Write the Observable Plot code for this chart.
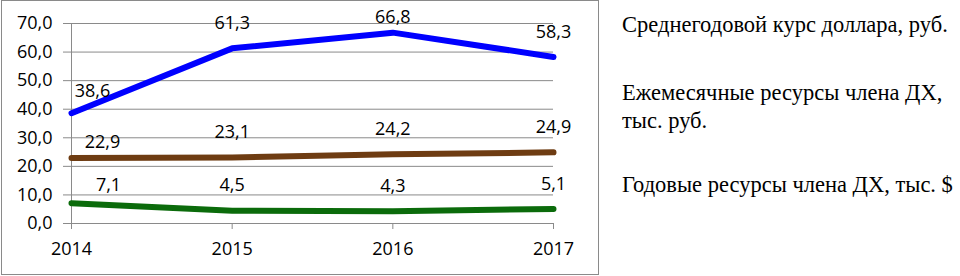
<!DOCTYPE html>
<html>
<head>
<meta charset="utf-8">
<script src="https://cdn.jsdelivr.net/npm/d3@7"></script>
<script src="https://cdn.jsdelivr.net/npm/@observablehq/plot@0.6"></script>
<style>
  html, body { margin: 0; padding: 0; background: #fff; }
  #wrap { position: relative; width: 960px; height: 276px; overflow: hidden; }
  #chart { position: absolute; left: 0; top: 0; }
  #frame { position: absolute; left: 1px; top: 0; width: 598px; height: 275px; box-sizing: border-box; border: 1px solid #8a8a8a; pointer-events: none; }
  .leg { position: absolute; left: 622px; font-family: "Times New Roman", "Liberation Serif", "DejaVu Serif", serif; font-size: 22.5px; line-height: 28px; color: #000; white-space: nowrap; }
</style>
</head>
<body>
<div id="wrap">
  <div id="chart"></div>
  <div id="frame"></div>
  <div id="legend"></div>
</div>
<script>
const years = [2014, 2015, 2016, 2017];
const usdRate = [38.6, 61.3, 66.8, 58.3];
const monthlyResources = [22.9, 23.1, 24.2, 24.9];
const annualResourcesUsd = [7.1, 4.5, 4.3, 5.1];
const seriesNames = [
  "Среднегодовой курс доллара, руб.",
  "Ежемесячные ресурсы члена ДХ,\nтыс. руб.",
  "Годовые ресурсы члена ДХ, тыс. $"
];
const yTicks = [0, 10, 20, 30, 40, 50, 60, 70];
const xTicks = [2014, 2015, 2016, 2017];

const colors = ["#0000ff", "#6e3c12", "#0b6b0b"];
const seriesValues = [usdRate, monthlyResources, annualResourcesUsd];

const rows = [];
seriesValues.forEach((vals, si) => {
  vals.forEach((v, i) => rows.push({series: seriesNames[si], si, year: years[i], value: v}));
});

const fmt = v => v.toFixed(1).replace(".", ",");

const firstDx = [21, 31, 37];
const firstDy = [-22, -16, -18];

const labelMarks = [];
rows.forEach(r => {
  let dx = 0, dy = -25;
  if (r.year === years[0]) { dx = firstDx[r.si]; dy = firstDy[r.si]; }
  if (r.si === 0 && r.year === 2016) dy = -15;
  labelMarks.push(Plot.text([r], {x: "year", y: "value", text: d => fmt(d.value), dx, dy, fill: "#000"}));
});

const chart = Plot.plot({
  width: 600,
  height: 276,
  marginLeft: 71,
  marginRight: 47,
  marginTop: 23,
  marginBottom: 53,
  style: {fontFamily: "'Open Sans', sans-serif", fontSize: "18px", color: "#000", background: "transparent"},
  x: {type: "linear", domain: [2014, 2017]},
  y: {domain: [0, 70]},
  marks: [
    Plot.gridY(yTicks, {stroke: "#8a8a8a", strokeOpacity: 1, strokeWidth: 1}),
    Plot.axisY({ticks: yTicks, tickFormat: fmt, tickSize: 8, tickPadding: 11, stroke: "#8a8a8a", fill: "#000", label: null}),
    Plot.axisX({ticks: xTicks, tickFormat: d => String(d), tickSize: 6, tickPadding: 13, stroke: "#8a8a8a", fill: "#000", label: null}),
    Plot.ruleX([2014], {y1: 0, y2: 70, stroke: "#8a8a8a"}),
    Plot.line(rows, {x: "year", y: "value", z: "series", stroke: d => colors[d.si], strokeWidth: 6, strokeLinecap: "round", strokeLinejoin: "round"}),
    ...labelMarks
  ]
});
document.getElementById("chart").appendChild(chart);

const legendTops = [11, 79, 171];
const legend = document.getElementById("legend");
seriesNames.forEach((name, i) => {
  const div = document.createElement("div");
  div.className = "leg";
  div.style.top = legendTops[i] + "px";
  div.innerHTML = name.split("\n").join("<br>");
  legend.appendChild(div);
});
</script>
</body>
</html>
